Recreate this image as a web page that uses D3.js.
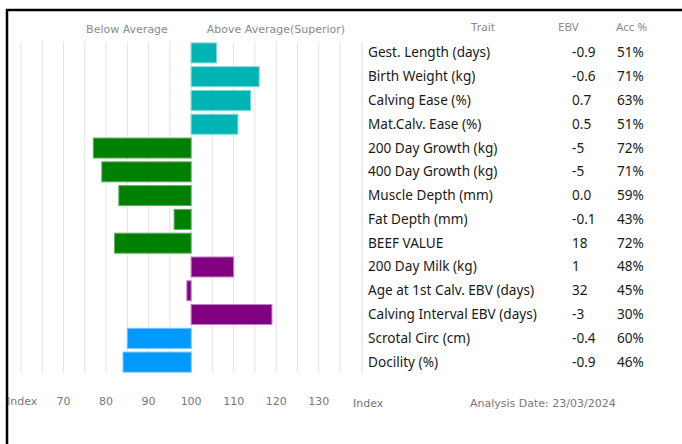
<!DOCTYPE html>
<meta charset="utf-8">
<style>
    body { margin: 0; background: #fff; }
    text { font-family: "Noto Sans", sans-serif; }
    .hdr { font-family: "DejaVu Sans", sans-serif; font-size: 11px; fill: #8a8a8a; }
    .axis-lbl { font-family: "DejaVu Sans", sans-serif; font-size: 11px; fill: #777; }
</style>

<script src="https://d3js.org/d3.v7.min.js"></script>

<svg id="chart" width="682" height="444"></svg>
<script>

// Data
var traits = ["Gest. Length (days)", "Birth Weight (kg)", "Calving Ease (%)", "Mat.Calv. Ease (%)",
    "200 Day Growth (kg)", "400 Day Growth (kg)", "Muscle Depth (mm)", "Fat Depth (mm)", "BEEF VALUE",
    "200 Day Milk (kg)", "Age at 1st Calv. EBV (days)", "Calving Interval EBV (days)",
    "Scrotal Circ (cm)", "Docility (%)"];
var ebv = ["-0.9", "-0.6", "0.7", "0.5", "-5", "-5", "0.0", "-0.1", "18", "1", "32", "-3", "-0.4", "-0.9"];
var acc = ["51%", "71%", "63%", "51%", "72%", "71%", "59%", "43%", "72%", "48%", "45%", "30%", "60%", "46%"];
var indexVals = [106, 116, 114, 111, 77, 79, 83, 96, 82, 110, 99, 119, 85, 84];
var group = ["calving", "calving", "calving", "calving", "growth", "growth", "growth", "growth", "growth",
    "maternal", "maternal", "maternal", "other", "other"];
var tickVals = [70, 80, 90, 100, 110, 120, 130];

var fills = { calving: "#00b4b4", growth: "#008000", maternal: "#800080", other: "#0099ff" };
var strokes = { calving: "#7fd9d9", growth: "#5fae5f", maternal: "#c27fc2", other: "#66c2ff" };

var svg = d3.select("#chart");

var x = d3.scaleLinear().domain([60, 135]).range([21, 340]);
var y = d3.scaleBand().domain(d3.range(traits.length)).range([41, 374])
    .paddingInner(0.16).paddingOuter(0.08);

// frame
svg.append("path")
    .attr("d", "M7,444V10H682")
    .attr("fill", "none")
    .attr("stroke", "#000")
    .attr("stroke-width", 2.5);

// grid lines every 5 index points
svg.append("g").selectAll("line")
    .data(d3.range(60, 136, 5))
    .enter().append("line")
        .attr("x1", function(d) { return x(d); })
        .attr("x2", function(d) { return x(d); })
        .attr("y1", 42)
        .attr("y2", 373)
        .attr("stroke", "#e3e3e3")
        .attr("stroke-width", 1);

// divider between bars and table
svg.append("line")
    .attr("x1", 362).attr("x2", 362)
    .attr("y1", 42).attr("y2", 373)
    .attr("stroke", "#dcdcdc");

// bars from 100
svg.append("g").selectAll("rect")
    .data(indexVals)
    .enter().append("rect")
        .attr("x", function(d) { return x(Math.min(d, 100)); })
        .attr("width", function(d) { return Math.abs(x(d) - x(100)); })
        .attr("y", function(d, i) { return y(i); })
        .attr("height", y.bandwidth())
        .attr("fill", function(d, i) { return fills[group[i]]; })
        .attr("stroke", function(d, i) { return strokes[group[i]]; })
        .attr("stroke-width", 1);

// headers
svg.append("text").attr("class", "hdr").attr("x", 127).attr("y", 33)
    .attr("text-anchor", "middle").text("Below Average");
svg.append("text").attr("class", "hdr").attr("x", 276).attr("y", 33)
    .attr("text-anchor", "middle").text("Above Average(Superior)");

var th = svg.append("g").style("font-size", "11.5px").style("fill", "#8a8a8a");
th.append("text").attr("x", 483).attr("y", 31).attr("text-anchor", "middle").text("Trait");
th.append("text").attr("x", 558).attr("y", 31).text("EBV");
th.append("text").attr("x", 616).attr("y", 31).text("Acc %");

// table rows
var rows = svg.append("g").style("font-size", "13.6px").style("fill", "#1a1a1a");
traits.forEach(function(t, i) {
    var cy = y(i) + y.bandwidth() / 2 + 4.5;
    rows.append("text").attr("x", 368).attr("y", cy).text(t);
    rows.append("text").attr("x", 572).attr("y", cy).text(ebv[i]);
    rows.append("text").attr("x", 617).attr("y", cy).text(acc[i]);
});

// bottom axis labels
var ax = svg.append("g");
ax.append("text").attr("class", "axis-lbl").attr("x", 7).attr("y", 405).text("Index");
ax.selectAll("text.tick")
    .data(tickVals)
    .enter().append("text")
        .attr("class", "axis-lbl tick")
        .attr("x", function(d) { return x(d); })
        .attr("y", 405)
        .attr("text-anchor", "middle")
        .text(function(d) { return d; });
ax.append("text").attr("class", "axis-lbl").attr("x", 353).attr("y", 407).text("Index");
ax.append("text").attr("class", "axis-lbl").attr("x", 470).attr("y", 407).text("Analysis Date: 23/03/2024");

</script>
